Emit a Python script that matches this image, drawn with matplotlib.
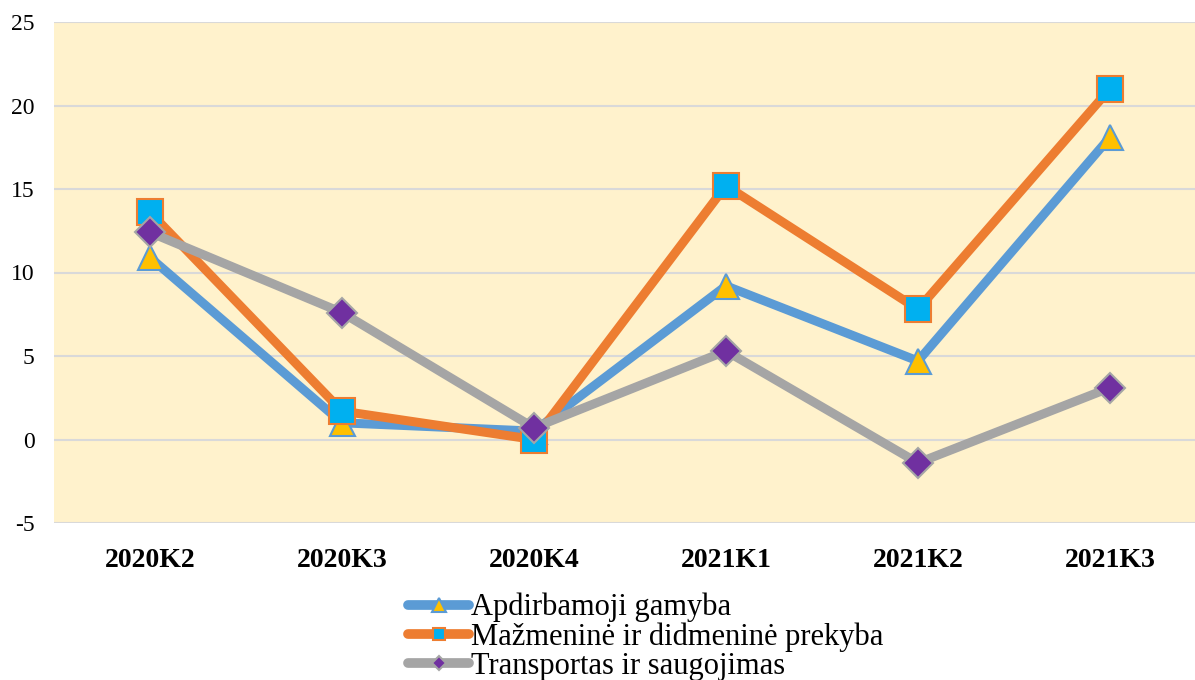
import matplotlib
matplotlib.use("Agg")
import matplotlib.pyplot as plt

categories = ["2020K2", "2020K3", "2020K4", "2021K1", "2021K2", "2021K3"]
apdirbamoji = [10.9, 1.0, 0.5, 9.2, 4.7, 18.1]
mazmenine = [13.6, 1.7, 0.0, 15.2, 7.8, 21.0]
transportas = [12.4, 7.6, 0.7, 5.3, -1.4, 3.1]
series_names = ["Apdirbamoji gamyba", "Mažmeninė ir didmeninė prekyba", "Transportas ir saugojimas"]
yticks = [-5, 0, 5, 10, 15, 20, 25]

plt.rcParams['font.family'] = ['Liberation Serif', 'DejaVu Serif']

fig = plt.figure(figsize=(11.95, 6.8), dpi=100)
ax = fig.add_axes([54/1195, 1-523/680, (1206-54)/1195, (523-22)/680])
ax.set_facecolor('#FFF2CC')
for s in ax.spines.values():
    s.set_visible(False)

x = list(range(len(categories)))
l1, = ax.plot(x, apdirbamoji, color='#5B9BD5', lw=6.5, marker='^', ms=18,
              mfc='#FFC000', mec='#5B9BD5', mew=1.5, label=series_names[0], zorder=3)
l2, = ax.plot(x, mazmenine, color='#ED7D31', lw=6.5, marker='s', ms=19,
              mfc='#00B0F0', mec='#ED7D31', mew=1.5, label=series_names[1], zorder=4)
l3, = ax.plot(x, transportas, color='#A5A5A5', lw=6.5, marker='D', ms=15,
              mfc='#7030A0', mec='#A5A5A5', mew=1.5, label=series_names[2], zorder=5)

ax.set_xlim(-0.5, 5.5)
ax.set_ylim(-5, 25)
ax.set_yticks(yticks)
ax.set_yticklabels([str(v) for v in yticks], fontsize=17)
ax.set_xticks(x)
ax.set_xticklabels(categories, fontweight='bold', fontsize=20)
ax.tick_params(axis='both', length=0)
ax.tick_params(axis='y', pad=14)
ax.tick_params(axis='x', pad=18)
ax.yaxis.grid(True, color='#D9D9D9', lw=1.5)
ax.set_axisbelow(True)

leg = fig.legend(loc='upper left', bbox_to_anchor=(408/1195, 1-593/680), frameon=False,
                 fontsize=22, handlelength=2.0, handletextpad=0.05, labelspacing=0.0,
                 borderaxespad=0, borderpad=0)
for h, ms in zip(leg.legend_handles, [10, 9, 7]):
    h.set_markersize(ms)
    h.set_linewidth(7)
    h.set_solid_capstyle('round')
fig.savefig('out.png', dpi=100)
